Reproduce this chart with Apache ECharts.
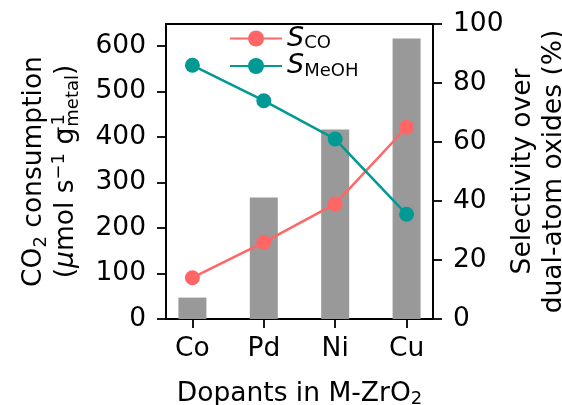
<!DOCTYPE html>
<html>
<head>
<meta charset="utf-8">
<script src="https://cdn.jsdelivr.net/npm/echarts@6/dist/echarts.min.js"></script>
<style>
  html, body { margin: 0; padding: 0; background: #fff; }
  #main { width: 562px; height: 405px; }
</style>
</head>
<body>
<div id="main"></div>
<script>
// dopant metals on the x axis
var categories = ['Co', 'Pd', 'Ni', 'Cu'];
// CO2 consumption (bars, left axis)
var co2Consumption = [47, 267, 416, 616];
// selectivities in % (lines, right axis)
var selCO = [14, 26, 39, 65];
var selMeOH = [86, 74, 61, 35.5];
// tick labels
var leftTicks = [0, 100, 200, 300, 400, 500, 600];
var catPos = [0, 1, 2, 3];

var FONT = 'DejaVu Sans';
var FS = 26.5;
var red = '#ff6666';
var teal = '#009994';

function pairs(vals) {
    var out = [];
    for (var i = 0; i < vals.length; i++) {
        out.push([catPos[i], vals[i]]);
    }
    return out;
}

var myChart = echarts.init(document.getElementById('main'));

var option = {
    animation: false,
    textStyle: { fontFamily: FONT, color: '#000' },
    grid: {
        left: 166, right: 129, top: 24, bottom: 86,
        outerBoundsMode: 'none',
        containLabel: false,
        show: true, borderColor: '#000', borderWidth: 1.8
    },
    legend: {
        orient: 'vertical',
        left: 229, top: 25,
        padding: 0,
        itemGap: 0,
        itemWidth: 52,
        itemHeight: 20,
        data: ['S_CO', 'S_MeOH'],
        formatter: function (name) {
            return '{i|S}{s|' + name.split('_')[1] + '}';
        },
        textStyle: {
            fontFamily: FONT,
            rich: {
                i: { fontFamily: FONT, fontStyle: 'italic', fontSize: 27, lineHeight: 28, color: '#000' },
                s: { fontFamily: FONT, fontSize: 18, lineHeight: 14, verticalAlign: 'bottom', color: '#000' }
            }
        }
    },
    xAxis: {
        type: 'value',
        min: -0.37,
        max: 3.37,
        name: 'Dopants in M-ZrO{sb|2}',
        nameLocation: 'middle',
        nameGap: 62,
        nameTextStyle: {
            fontFamily: FONT, fontSize: FS, color: '#000',
            rich: {
                sb: { fontFamily: FONT, fontSize: 18, lineHeight: 14, verticalAlign: 'bottom', color: '#000' }
            }
        },
        axisLine: { onZero: false, lineStyle: { color: '#000', width: 1.8 } },
        axisTick: { customValues: catPos, length: 9, lineStyle: { color: '#000', width: 1.8 } },
        axisLabel: {
            customValues: catPos,
            margin: 17,
            fontFamily: FONT, fontSize: FS, color: '#000',
            formatter: function (v) { return categories[Math.round(v)]; }
        },
        splitLine: { show: false }
    },
    yAxis: [{
        type: 'value',
        min: 0,
        max: 648,
        name: '{n|CO}{sb|2}{n| consumption}\n{n|(}{it|μ}{n|mol s}{sp|−1}{n| g}{sp2|−1}{sb|metal}{n|)}',
        nameLocation: 'middle',
        nameRotate: 90,
        nameGap: 84,
        nameTextStyle: {
            fontFamily: FONT, fontSize: FS, color: '#000',
            rich: {
                n: { fontFamily: FONT, fontSize: FS, lineHeight: 32, color: '#000' },
                it: { fontFamily: FONT, fontSize: FS, lineHeight: 32, fontStyle: 'italic', color: '#000' },
                sb: { fontFamily: FONT, fontSize: 18, lineHeight: 14, verticalAlign: 'bottom', color: '#000' },
                sp: { fontFamily: FONT, fontSize: 18, lineHeight: 18, verticalAlign: 'top', color: '#000' },
                sp2: { fontFamily: FONT, fontSize: 18, lineHeight: 18, verticalAlign: 'top', align: 'left', width: 1, color: '#000' }
            }
        },
        axisLine: { show: true, onZero: false, lineStyle: { color: '#000', width: 1.8 } },
        axisTick: { show: true, customValues: leftTicks, length: 9, lineStyle: { color: '#000', width: 1.8 } },
        axisLabel: { customValues: leftTicks, margin: 20, fontFamily: FONT, fontSize: FS, color: '#000' },
        splitLine: { show: false }
    }, {
        type: 'value',
        min: 0,
        max: 100,
        interval: 20,
        position: 'right',
        name: 'Selectivity over\ndual-atom oxides (%)',
        nameLocation: 'middle',
        nameRotate: 90,
        nameGap: 69,
        nameTextStyle: { fontFamily: FONT, fontSize: FS, lineHeight: 31, color: '#000' },
        axisLine: { show: true, onZero: false, lineStyle: { color: '#000', width: 1.8 } },
        axisTick: { show: true, length: 9, lineStyle: { color: '#000', width: 1.8 } },
        axisLabel: { margin: 20, fontFamily: FONT, fontSize: FS, color: '#000' },
        splitLine: { show: false }
    }],
    series: [{
        name: 'CO2',
        type: 'bar',
        yAxisIndex: 0,
        barWidth: 28,
        itemStyle: { color: '#999999' },
        data: pairs(co2Consumption)
    }, {
        name: 'S_CO',
        type: 'line',
        yAxisIndex: 1,
        symbol: 'circle',
        symbolSize: 15,
        lineStyle: { color: red, width: 2.5 },
        itemStyle: { color: red },
        data: pairs(selCO)
    }, {
        name: 'S_MeOH',
        type: 'line',
        yAxisIndex: 1,
        symbol: 'circle',
        symbolSize: 15,
        lineStyle: { color: teal, width: 2.5 },
        itemStyle: { color: teal },
        data: pairs(selMeOH)
    }]
};

myChart.setOption(option);
</script>
</body>
</html>
